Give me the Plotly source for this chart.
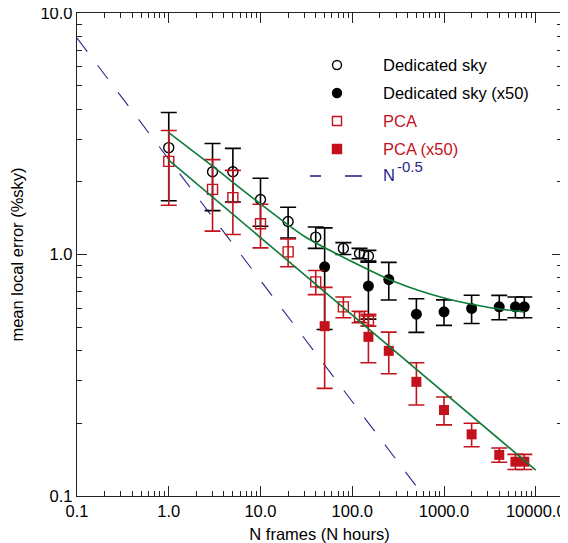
import plotly.graph_objects as go

# ---------------- data ----------------
n_frames = [1, 3, 5, 10, 20, 40, 80, 120, 150]
ded_sky = [2.77, 2.20, 2.20, 1.69, 1.37, 1.18, 1.06, 1.01, 0.985]
ded_sky_err = [1.10, 0.68, 0.55, 0.38, 0.20, 0.12, 0.06, 0.05, 0.055]
pca = [2.43, 1.86, 1.72, 1.34, 1.025, 0.77, 0.607, 0.552, 0.535]
pca_err = [0.83, 0.61, 0.51, 0.275, 0.135, 0.088, 0.06, 0.03, 0.03]

n_frames50 = [50, 150, 250, 500, 1000, 2000, 4000, 6000, 7500]
ded_sky50 = [0.889, 0.74, 0.788, 0.566, 0.579, 0.598, 0.607, 0.607, 0.607]
ded_sky50_err = [0.40, 0.20, 0.14, 0.09, 0.07, 0.08, 0.07, 0.06, 0.06]
pca50 = [0.505, 0.456, 0.399, 0.297, 0.227, 0.180, 0.148, 0.1387, 0.1387]
pca50_err = [0.226, 0.10, 0.078, 0.059, 0.03, 0.02, 0.01, 0.01, 0.01]

fit_ded_x = [1, 3, 10, 30, 100, 300, 1000, 3000, 7500]
fit_ded_y = [3.20, 2.32, 1.62, 1.19, 0.933, 0.767, 0.66, 0.605, 0.578]
fit_pca_x = [1, 10000]
fit_pca_y = [2.46, 0.128]

npow_x = [0.1, 620]
npow_y = [7.87, 0.0985]

x_tickvals = [0.1, 1, 10, 100, 1000, 10000]
x_ticktext = ["0.1", "1.0", "10.0", "100.0", "1000.0", "10000.0"]
y_tickvals = [0.1, 1, 10]
y_ticktext = ["0.1", "1.0", "10.0"]

legend_labels = ["Dedicated sky", "Dedicated sky (x50)", "PCA", "PCA (x50)", "N"]
power_label = "-0.5"

# ---------------- style ----------------
BLACK = "#000000"
RED = "#c4121c"
GREEN = "#0e7a3a"
NAVY = "#27278a"
AXC = "#222222"
FONT = "Liberation Sans, Arial, Helvetica, sans-serif"
FS = 16.5

# the page body has an 8px default margin: compensate so the plot area
# lands at pixels x 77..562, y 13..496 of the 568x543 window
OFF = 8
W, H = 568 - OFF, 543 - OFF
L, R, T, B = 77 - OFF, 6, 13 - OFF, 47
PW, PH = W - L - R, H - T - B

fig = go.Figure()


def err(arr, color):
    return dict(type="data", array=arr, visible=True, color=color,
                thickness=1.6, width=8)


fig.add_trace(go.Scatter(
    x=npow_x, y=npow_y, mode="lines",
    line=dict(color=NAVY, width=1.1, dash="17px,17px"), showlegend=False))

fig.add_trace(go.Scatter(
    x=n_frames, y=ded_sky, mode="markers", error_y=err(ded_sky_err, BLACK),
    marker=dict(symbol="circle-open", size=10, color=BLACK, line=dict(width=1.4)),
    showlegend=False))
fig.add_trace(go.Scatter(
    x=n_frames50, y=ded_sky50, mode="markers", error_y=err(ded_sky50_err, BLACK),
    marker=dict(symbol="circle", size=11, color=BLACK), showlegend=False))
fig.add_trace(go.Scatter(
    x=n_frames, y=pca, mode="markers", error_y=err(pca_err, RED),
    marker=dict(symbol="square-open", size=10, color=RED, line=dict(width=1.4)),
    showlegend=False))
fig.add_trace(go.Scatter(
    x=n_frames50, y=pca50, mode="markers", error_y=err(pca50_err, RED),
    marker=dict(symbol="square", size=10, color=RED), showlegend=False))

fig.add_trace(go.Scatter(
    x=fit_ded_x, y=fit_ded_y, mode="lines",
    line=dict(color=GREEN, width=1.6, shape="spline", smoothing=0.8), showlegend=False))
fig.add_trace(go.Scatter(
    x=fit_pca_x, y=fit_pca_y, mode="lines",
    line=dict(color=GREEN, width=1.6), showlegend=False))

# ---------------- manual legend (window pixel positions) ----------------
def px_to_paper(px, py):
    return (px - 77) / PW, (496 - py) / PH

leg_marker_x = 337
leg_text_x = 382
leg_rows = [65, 93, 121, 149, 175]
leg_colors = [BLACK, BLACK, RED, RED, NAVY]
shapes = []
annotations = []
for i, (lab, col, ry) in enumerate(zip(legend_labels, leg_colors, leg_rows)):
    xp, yp = px_to_paper(leg_text_x, ry)
    annotations.append(dict(
        text=lab, x=xp, y=yp, xref="paper", yref="paper",
        xanchor="left", yanchor="middle", showarrow=False, borderpad=0,
        font=dict(family=FONT, size=FS, color=col)))
    mx, my = px_to_paper(leg_marker_x, ry)
    if i < 4:
        base = dict(xref="paper", yref="paper", xsizemode="pixel", ysizemode="pixel",
                    xanchor=mx, yanchor=my, x0=-4.5, x1=4.5, y0=-4.5, y1=4.5)
        filled = i in (1, 3)
        shp = dict(base, type="circle" if i < 2 else "rect",
                   line=dict(color=col, width=1.4),
                   fillcolor=col if filled else "rgba(0,0,0,0)")
        shapes.append(shp)
    else:
        for (a, b) in [(310, 321), (345, 362)]:
            xa, ya = px_to_paper(a, 176)
            xb, _ = px_to_paper(b, 176)
            shapes.append(dict(type="line", xref="paper", yref="paper",
                               x0=xa, x1=xb, y0=ya, y1=ya,
                               line=dict(color=NAVY, width=1.6)))
        sx, sy = px_to_paper(leg_text_x + 14, 166)
        annotations.append(dict(
            text=power_label, x=sx, y=sy, xref="paper", yref="paper",
            xanchor="left", yanchor="middle", showarrow=False, borderpad=0,
            font=dict(family=FONT, size=15, color=NAVY)))

x_minor = [m * 10 ** e for e in range(-1, 5) for m in range(2, 10)]
y_minor = [m * 10 ** e for e in range(-1, 1) for m in range(2, 10)]

axis_common = dict(
    type="log", showgrid=False, zeroline=False, showline=True, linecolor=AXC,
    linewidth=1.4, mirror="allticks", ticks="inside", ticklen=10, tickwidth=1.2,
    tickcolor=AXC, tickmode="array", automargin=False, ticklabeloverflow="allow",
    tickfont=dict(family=FONT, size=FS, color=BLACK),
)

fig.update_layout(
    width=W, height=H, margin=dict(l=L, r=R, t=T, b=B, autoexpand=False),
    paper_bgcolor="white", plot_bgcolor="white", showlegend=False,
    font=dict(family=FONT, size=FS, color=BLACK),
    xaxis=dict(axis_common, range=[-1, 4.286], tickvals=x_tickvals, ticktext=x_ticktext,
               minor=dict(tickmode="array", tickvals=x_minor, ticks="inside", ticklen=5,
                          tickwidth=1.1, tickcolor=AXC),
               title=dict(text="N frames (N hours)", standoff=9,
                          font=dict(family=FONT, size=FS, color=BLACK))),
    yaxis=dict(axis_common, range=[-1, 1], tickvals=y_tickvals, ticktext=y_ticktext,
               minor=dict(tickmode="array", tickvals=y_minor, ticks="inside", ticklen=5,
                          tickwidth=1.1, tickcolor=AXC),
               title=dict(text="mean local error (%sky)", standoff=12,
                          font=dict(family=FONT, size=FS, color=BLACK))),
    shapes=shapes, annotations=annotations,
)

fig.write_html("out.html")
